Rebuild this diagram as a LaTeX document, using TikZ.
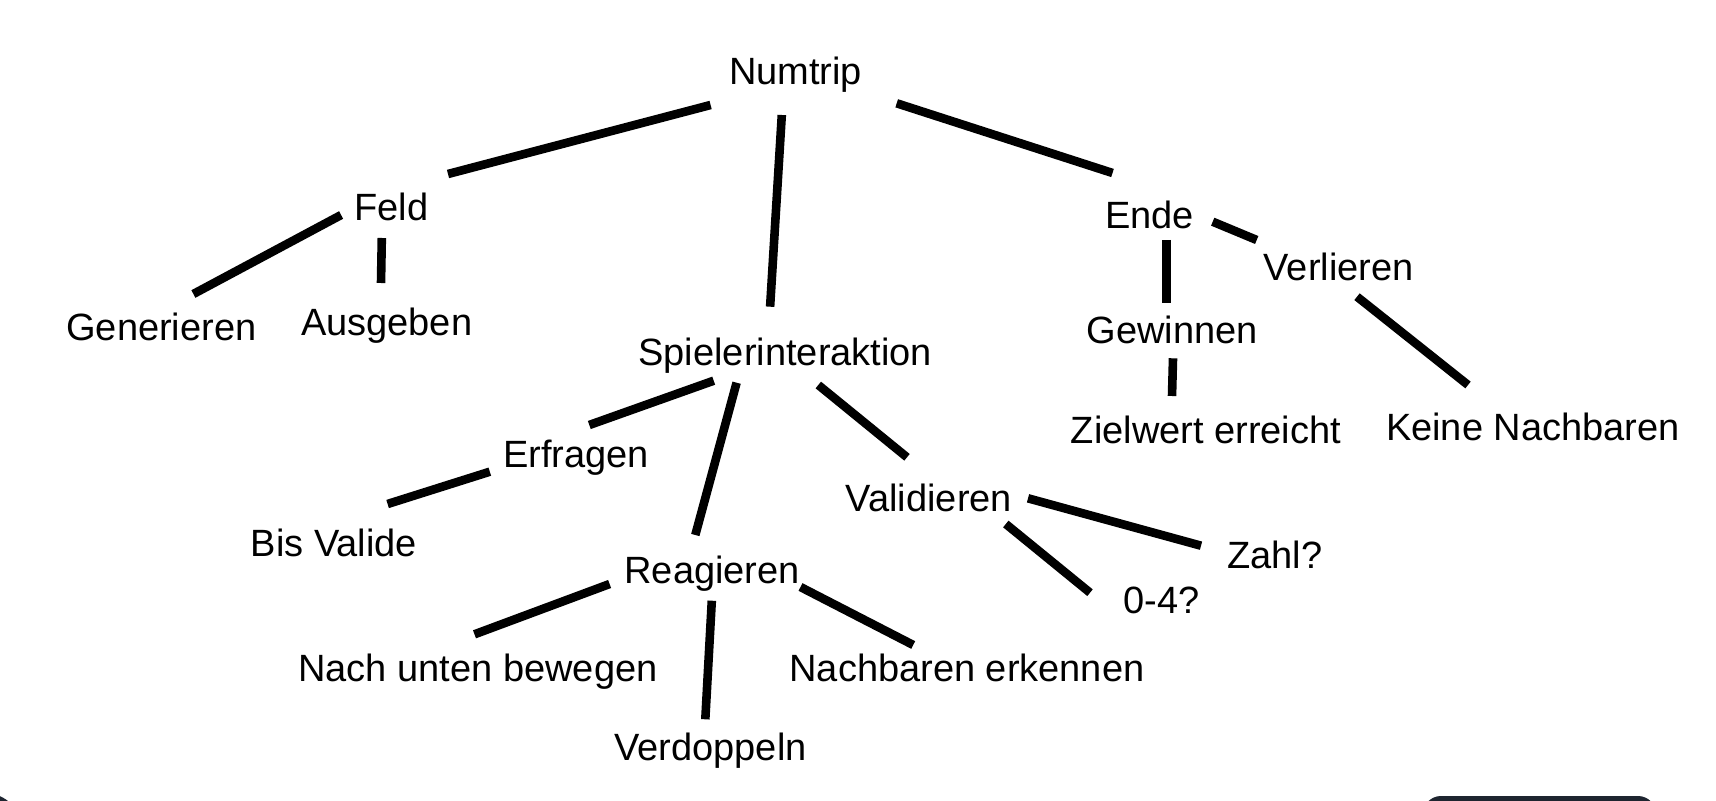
\documentclass[tikz,border=0pt]{standalone}
\usepackage{fontspec}
\setmainfont{Liberation Sans}
\definecolor{uidark}{HTML}{1E2530}
\tikzset{
  lbl/.style={anchor=base, inner sep=0pt, font=\fontsize{19}{22}\selectfont},
  edge/.style={line width=4.3pt, line cap=butt, black}
}
\begin{document}
\begin{tikzpicture}[x=0.5pt, y=-0.5pt]
\useasboundingbox (0,0) rectangle (1716,801);
\fill[white] (0,0) rectangle (1716,801);
\begin{scope}
\clip (0,0) rectangle (1716,801);
\fill[uidark] (-15,830) circle [radius=37];
\fill[uidark, rounded corners=9pt] (1423,796) rectangle (1656,860);
\end{scope}

% nodes
\node[lbl] (numtrip) at (795.5,85) {Numtrip};
\node[lbl] (feld) at (391.5,221) {Feld};
\node[lbl] (gen) at (161.4,341) {Generieren};
\node[lbl] (aus) at (386.7,335.7) {Ausgeben};
\node[lbl] (spiel) at (785.3,366) {Spielerinteraktion};
\node[lbl] (ende) at (1149.5,229) {Ende};
\node[lbl] (verl) at (1338.7,280.7) {Verlieren};
\node[lbl] (gew) at (1172.2,343.3) {Gewinnen};
\node[lbl] (ziel) at (1206,443.3) {Zielwert erreicht};
\node[lbl] (keine) at (1532.8,440.7) {Keine Nachbaren};
\node[lbl] (erfr) at (575.9,467.3) {Erfragen};
\node[lbl] (bis) at (333.9,556.7) {Bis Valide};
\node[lbl] (reag) at (712.1,583.3) {Reagieren};
\node[lbl] (vali) at (928.9,511.7) {Validieren};
\node[lbl] (zahl) at (1274.7,568.3) {Zahl?};
\node[lbl] (null) at (1161.7,613.3) {0-4?};
\node[lbl] (nach) at (478,681.7) {Nach unten bewegen};
\node[lbl] (nachb) at (967,681.7) {Nachbaren erkennen};
\node[lbl] (verd) at (710.5,760) {Verdoppeln};

% connector end points (lines stop short of the labels)
\coordinate (numtrip-feld-a) at (710.6,105);   \coordinate (numtrip-feld-b) at (448,174);
\coordinate (numtrip-spiel-a) at (781.8,115);  \coordinate (numtrip-spiel-b) at (770.1,306.7);
\coordinate (numtrip-ende-a) at (896.7,103.3); \coordinate (numtrip-ende-b) at (1112.5,173);
\coordinate (feld-gen-a) at (341.1,215);       \coordinate (feld-gen-b) at (193.4,294);
\coordinate (feld-aus-a) at (381.8,238);       \coordinate (feld-aus-b) at (381,283);
\coordinate (ende-verl-a) at (1212.7,221.7);   \coordinate (ende-verl-b) at (1256.7,240);
\coordinate (ende-gew-a) at (1166.7,240);      \coordinate (ende-gew-b) at (1166.7,303.3);
\coordinate (verl-keine-a) at (1357,296.7);    \coordinate (verl-keine-b) at (1468,385);
\coordinate (gew-ziel-a) at (1173,358.3);      \coordinate (gew-ziel-b) at (1172,396);
\coordinate (spiel-erfr-a) at (713.7,380.7);   \coordinate (spiel-erfr-b) at (589.3,425);
\coordinate (spiel-reag-a) at (736.6,382.7);   \coordinate (spiel-reag-b) at (695.3,535);
\coordinate (spiel-vali-a) at (818.3,385);     \coordinate (spiel-vali-b) at (907,457.3);
\coordinate (erfr-bis-a) at (489.8,471.7);     \coordinate (erfr-bis-b) at (387.6,504);
\coordinate (vali-zahl-a) at (1028,498.3);     \coordinate (vali-zahl-b) at (1201,545.7);
\coordinate (vali-null-a) at (1005.8,524);     \coordinate (vali-null-b) at (1090,592.7);
\coordinate (reag-nach-a) at (609.6,584);      \coordinate (reag-nach-b) at (474.5,634.3);
\coordinate (reag-verd-a) at (711.8,600.7);    \coordinate (reag-verd-b) at (705.3,719.3);
\coordinate (reag-nachb-a) at (800.5,587);     \coordinate (reag-nachb-b) at (913.2,645);

\foreach \e in {numtrip-feld, numtrip-spiel, numtrip-ende, feld-gen, feld-aus,
  ende-verl, ende-gew, verl-keine, gew-ziel, spiel-erfr, spiel-reag, spiel-vali,
  erfr-bis, vali-zahl, vali-null, reag-nach, reag-verd, reag-nachb}
  \draw[edge] (\e-a) -- (\e-b);
\end{tikzpicture}
\end{document}
